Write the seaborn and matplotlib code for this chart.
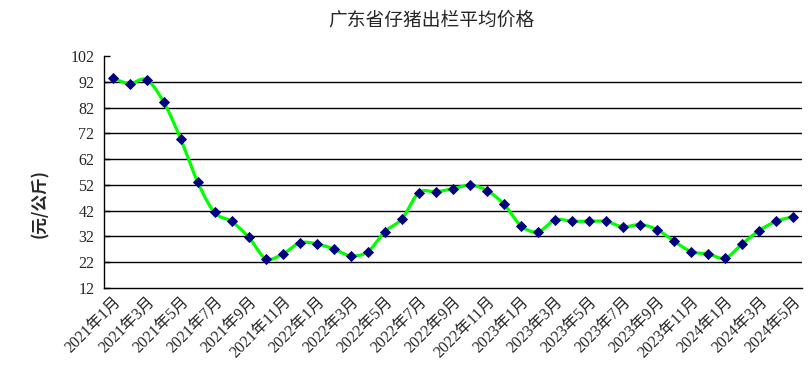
import numpy as np
import pandas as pd
import seaborn as sns
import matplotlib.pyplot as plt

# monthly data, 2021-01 .. 2024-05
months = [f'{y}年{m}月' for y in range(2021, 2025) for m in range(1, 13)][:41]
prices = [93.4, 91.3, 92.8, 84.2, 69.9, 53.1, 41.3, 37.8, 31.7, 23.4, 25.2, 29.5,
          29.1, 27.1, 24.5, 26.1, 33.9, 38.8, 49.0, 49.3, 50.5, 51.9, 49.8, 44.5,
          36.1, 33.8, 38.4, 37.9, 37.9, 37.8, 35.7, 36.6, 34.6, 30.1, 26.1, 25.2,
          23.6, 29.2, 34.3, 37.9, 39.7]
y_ticks = list(range(12, 103, 10))
title = '广东省仔猪出栏平均价格'
y_label = '(元/公斤)'

df = pd.DataFrame({'idx': np.arange(len(prices)), 'price': prices})


def smooth_curve(x, y, n=20):
    # catmull-rom pass through the points, like excel's smoothed line
    x = np.asarray(x, float)
    y = np.asarray(y, float)
    px = np.concatenate([[2 * x[0] - x[1]], x, [2 * x[-1] - x[-2]]])
    py = np.concatenate([[2 * y[0] - y[1]], y, [2 * y[-1] - y[-2]]])
    xs, ys = [], []
    t = np.linspace(0, 1, n, endpoint=False)
    for i in range(1, len(px) - 2):
        for p, out in ((px, xs), (py, ys)):
            p0, p1, p2, p3 = p[i - 1], p[i], p[i + 1], p[i + 2]
            out.extend(0.5 * ((2 * p1) + (-p0 + p2) * t
                              + (2 * p0 - 5 * p1 + 4 * p2 - p3) * t ** 2
                              + (-p0 + 3 * p1 - 3 * p2 + p3) * t ** 3))
    xs.append(x[-1])
    ys.append(y[-1])
    return np.array(xs), np.array(ys)


sns.set_style('white')
plt.rcParams['font.family'] = ['Liberation Serif', 'Noto Sans CJK SC', 'DejaVu Sans']

fig = plt.figure(figsize=(8.1, 3.85), dpi=100)
ax = fig.add_axes([0.1284, 0.252, 0.8616, 0.6025])

sx, sy = smooth_curve(df['idx'], df['price'])
ax.plot(sx, sy, color='#00FF00', lw=2.3, zorder=3)
sns.scatterplot(data=df, x='idx', y='price', marker='D', s=26,
                color='#000080', edgecolor='#000080', linewidth=0.6, ax=ax, zorder=4)

ax.set_xlim(-0.5, len(prices) - 0.5)
ax.set_ylim(12, 102)
ax.set_yticks(y_ticks)
ax.set_yticklabels([str(v) for v in y_ticks], fontsize=11.5)
for v in y_ticks[1:-1]:
    ax.axhline(v, color='black', lw=1, zorder=1)

ax.set_xticks(df['idx'][::2])
ax.set_xticklabels(months[::2], rotation=45, ha='right', rotation_mode='anchor', fontsize=11.5)
ax.set_xticks(np.arange(-0.5, len(prices) - 1, 2), minor=True)
ax.tick_params(axis='x', which='major', length=0, pad=4)
ax.tick_params(axis='x', which='minor', direction='in', length=5, width=1, color='black')
ax.tick_params(axis='y', direction='in', length=4, width=1, color='black', left=True, pad=7)

ax.set_xlabel('')
ax.set_ylabel('')
for side in ['top', 'right']:
    ax.spines[side].set_visible(False)
for side in ['left', 'bottom']:
    ax.spines[side].set_color('black')
    ax.spines[side].set_linewidth(1)

fig.text(0.533, 0.948, title, ha='center', va='center', fontsize=13.5,
         family=['Noto Sans CJK SC', 'DejaVu Sans'], fontweight='light')
fig.text(0.05, 0.47, y_label, ha='center', va='center', rotation=90, fontsize=12,
         fontweight='bold', family=['Noto Sans CJK SC', 'DejaVu Sans'])

fig.savefig('out.png', dpi=100)
